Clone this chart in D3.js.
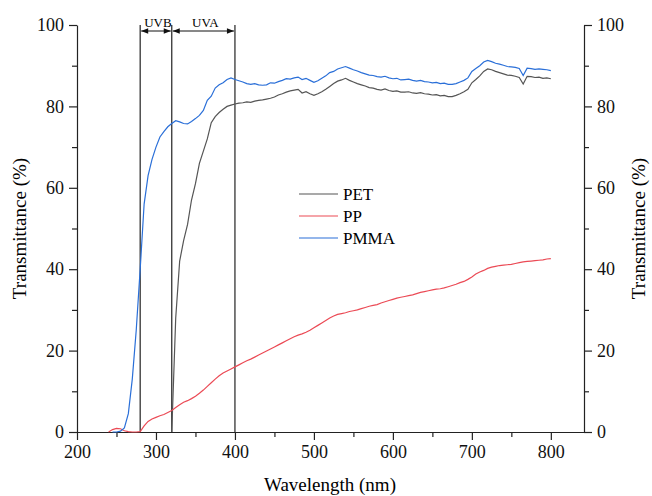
<!DOCTYPE html>
<html>
<head>
<meta charset="utf-8">
<script src="https://cdn.jsdelivr.net/npm/d3@7"></script>
</head>
<body style="margin:0; background:#fff">
<svg id="chart" width="652" height="496"></svg>
<script>
// wavelength grid (nm), 5 nm step
let wavelengths = d3.range(240, 801, 5);

let pmma = [null, 0, 0, 0.2, 1, 4.5, 13, 25, 40, 56, 63, 67, 70, 72.5, 73.8, 75, 75.8, 76.5, 76.2, 75.8, 75.7, 76.3, 77, 77.8, 79, 81.5, 82.5, 84.5, 85.3, 85.8, 86.6, 87, 86.6, 86.3, 86, 85.6, 85.4, 85.6, 85.3, 85.2, 85.3, 85.8, 85.7, 86.1, 86.4, 86.8, 86.7, 87, 87.2, 86.6, 86.9, 86.4, 85.9, 86.3, 86.9, 87.5, 88.3, 88.6, 89.2, 89.5, 89.8, 89.4, 89, 88.7, 88.3, 88, 87.7, 87.6, 87.3, 87.2, 87.4, 87, 86.8, 86.9, 86.5, 86.6, 86.7, 86.4, 86.2, 86.4, 86.1, 86, 85.8, 85.9, 85.6, 85.7, 85.4, 85.4, 85.6, 86, 86.4, 87, 88.6, 89.3, 90, 90.9, 91.3, 91, 90.6, 90.4, 90.1, 89.8, 89.7, 89.6, 89.3, 87.6, 89.4, 89.3, 89.1, 89.2, 89.1, 89, 88.8];

let pet = [null, null, null, null, null, null, null, null, null, null, null, null, null, null, null, null, 0, 28, 42, 47, 51, 57, 61, 66, 69, 72, 76, 77.5, 78.5, 79.3, 80, 80.3, 80.6, 80.8, 80.9, 81.1, 81, 81.3, 81.5, 81.6, 81.8, 82, 82.3, 82.8, 83.1, 83.5, 83.8, 84, 84.2, 83.3, 83.6, 83.1, 82.7, 83.1, 83.6, 84.2, 84.9, 85.6, 86.2, 86.5, 86.9, 86.4, 86, 85.6, 85.3, 85, 84.6, 84.5, 84.2, 84, 84.3, 83.9, 83.7, 83.8, 83.5, 83.5, 83.6, 83.3, 83.2, 83.4, 83.1, 83, 82.8, 82.9, 82.6, 82.7, 82.4, 82.4, 82.7, 83.1, 83.6, 84.2, 85.8, 86.6, 87.5, 88.6, 89.2, 89, 88.6, 88.3, 88, 87.7, 87.6, 87.4, 87.1, 85.5, 87.4, 87.3, 87.1, 87.2, 86.9, 87, 86.8];

let pp = [0, 0.6, 0.9, 0.8, 0.3, 0.1, 0, 0, 0.1, 1.5, 2.6, 3.2, 3.6, 4, 4.3, 4.8, 5.3, 6, 6.7, 7.3, 7.7, 8.2, 8.8, 9.5, 10.3, 11.2, 12.1, 13, 13.8, 14.5, 15, 15.5, 16, 16.5, 17, 17.5, 17.9, 18.4, 18.9, 19.4, 19.9, 20.4, 20.9, 21.4, 21.9, 22.4, 22.9, 23.4, 23.8, 24.1, 24.5, 25, 25.6, 26.2, 26.8, 27.4, 28, 28.5, 28.9, 29.1, 29.3, 29.6, 29.8, 30, 30.3, 30.6, 30.9, 31.1, 31.3, 31.7, 32, 32.3, 32.6, 32.9, 33.1, 33.3, 33.5, 33.7, 34, 34.3, 34.5, 34.7, 34.9, 35.1, 35.2, 35.4, 35.7, 36, 36.3, 36.7, 37, 37.5, 38.1, 38.8, 39.3, 39.7, 40.2, 40.5, 40.7, 40.9, 41, 41.1, 41.2, 41.4, 41.6, 41.8, 41.9, 42, 42.1, 42.2, 42.3, 42.5, 42.6, 42.8];

let seriesNames = ["PET", "PP", "PMMA"];
let seriesColors = ["#555555", "#eb4a55", "#2a6fd8"];
let seriesValues = [pet, pp, pmma];

let xTicks = [200, 300, 400, 500, 600, 700, 800];
let xMinor = [250, 350, 450, 550, 650, 750];
let yTicks = [0, 20, 40, 60, 80, 100];
let yMinor = [10, 30, 50, 70, 90];

// UV bands
let bandEdges = [280, 320, 400];
let bands = [{name: "UVB", from: 280, to: 320}, {name: "UVA", from: 320, to: 400}];

let svg = d3.select("#chart");
let axisColor = "#222";
let serif = "'Liberation Serif'";

let x = d3.scaleLinear().domain([200, 842]).range([77, 584]);
let y = d3.scaleLinear().domain([0, 100]).range([432, 25]);

// axes
function styleAxis(g) {
    g.selectAll("path, line").attr("stroke", axisColor).attr("stroke-width", 1.2);
    g.selectAll("text").attr("fill", "#111")
        .style("font-family", serif).style("font-size", "18px");
}

let gx = svg.append("g").attr("transform", "translate(0,432)")
    .call(d3.axisBottom(x).tickValues(xTicks).tickSize(8).tickSizeOuter(0).tickPadding(5));
styleAxis(gx);
svg.append("g").attr("transform", "translate(0,432)")
    .call(d3.axisBottom(x).tickValues(xMinor).tickSize(5).tickFormat(""))
    .call(g => g.select(".domain").remove())
    .call(styleAxis);

let gy = svg.append("g").attr("transform", "translate(77,0)")
    .call(d3.axisLeft(y).tickValues(yTicks).tickSize(8).tickSizeOuter(0).tickPadding(5));
styleAxis(gy);
svg.append("g").attr("transform", "translate(77,0)")
    .call(d3.axisLeft(y).tickValues(yMinor).tickSize(5).tickFormat(""))
    .call(g => g.select(".domain").remove())
    .call(styleAxis);

let gy2 = svg.append("g").attr("transform", "translate(584,0)")
    .call(d3.axisRight(y).tickValues(yTicks).tickSize(8).tickSizeOuter(0).tickPadding(5));
styleAxis(gy2);
svg.append("g").attr("transform", "translate(584,0)")
    .call(d3.axisRight(y).tickValues(yMinor).tickSize(5).tickFormat(""))
    .call(g => g.select(".domain").remove())
    .call(styleAxis);

// axis titles
svg.append("text")
    .attr("x", 330).attr("y", 491)
    .attr("text-anchor", "middle")
    .style("font-family", serif).style("font-size", "19px")
    .text("Wavelength (nm)");
svg.append("text")
    .attr("transform", "translate(26," + y(50) + ") rotate(-90)")
    .attr("text-anchor", "middle")
    .style("font-family", serif).style("font-size", "19px")
    .text("Transmittance (%)");
svg.append("text")
    .attr("transform", "translate(645," + y(50) + ") rotate(-90)")
    .attr("text-anchor", "middle")
    .style("font-family", serif).style("font-size", "19px")
    .text("Transmittance (%)");

// UV band edges
svg.selectAll("line.edge").data(bandEdges).enter()
    .append("line").attr("class", "edge")
    .attr("x1", d => x(d)).attr("x2", d => x(d))
    .attr("y1", y(100)).attr("y2", y(0))
    .attr("stroke", "#222").attr("stroke-width", 1.2);

svg.append("defs").append("marker")
    .attr("id", "head").attr("viewBox", "0 0 10 10")
    .attr("refX", 10).attr("refY", 5)
    .attr("markerWidth", 8).attr("markerHeight", 7)
    .attr("markerUnits", "userSpaceOnUse")
    .attr("orient", "auto-start-reverse")
    .append("path").attr("d", "M0,1 L10,5 L0,9 Z").attr("fill", "#111");

let arrowY = 31;
bands.forEach(function(b) {
    svg.append("line")
        .attr("x1", x(b.from) + 1).attr("x2", x(b.to) - 1)
        .attr("y1", arrowY).attr("y2", arrowY)
        .attr("stroke", "#111").attr("stroke-width", 1)
        .attr("marker-start", "url(#head)").attr("marker-end", "url(#head)");
    svg.append("text")
        .attr("x", (x(b.from) + x(b.to)) / 2 + 2).attr("y", 27)
        .attr("text-anchor", "middle")
        .style("font-family", serif).style("font-size", "13px")
        .text(b.name);
});

// curves
let line = d3.line()
    .defined(d => d[1] != null)
    .x(d => x(d[0]))
    .y(d => y(d[1]));

seriesValues.forEach(function(vals, i) {
    let pts = wavelengths.map((w, j) => [w, vals[j]]);
    svg.append("path")
        .datum(pts)
        .attr("fill", "none")
        .attr("stroke", seriesColors[i])
        .attr("stroke-width", 1.2)
        .attr("d", line);
});

// legend
let legend = svg.append("g").attr("transform", "translate(299,194)");
seriesNames.forEach(function(name, i) {
    let row = legend.append("g").attr("transform", "translate(0," + (i * 22) + ")");
    row.append("line").attr("x1", 0).attr("x2", 39).attr("y1", 0).attr("y2", 0)
        .attr("stroke", seriesColors[i]).attr("stroke-width", 1.2);
    row.append("text").attr("x", 44).attr("y", 6)
        .style("font-family", serif).style("font-size", "17px")
        .text(name);
});
</script>
</body>
</html>
